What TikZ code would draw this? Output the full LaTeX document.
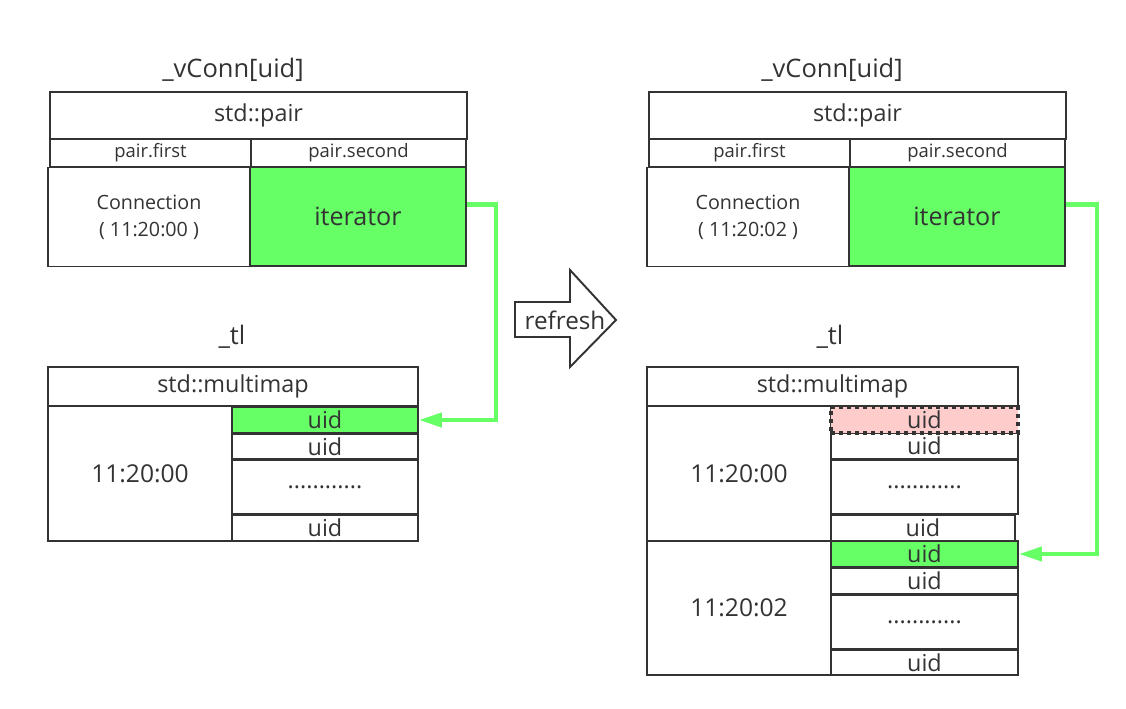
\documentclass[tikz,border=0pt]{standalone}
\usepackage{fontspec}
\setmainfont{Open Sans}
\usetikzlibrary{arrows.meta,calc}
\definecolor{mygreen}{RGB}{102,255,102}
\definecolor{mypink}{RGB}{255,204,204}
\definecolor{myline}{RGB}{51,51,51}
\newcommand{\fsz}[1]{\fontsize{#1}{#1}\selectfont}

\tikzset{
  box/.style 2 args={minimum width=#1*0.02cm, minimum height=#2*0.02cm},
  cell/.style={draw=myline, line width=1.1pt, inner sep=0pt},
  hot/.style={cell, fill=mygreen},
  gone/.style={fill=mypink, draw=myline, line width=2.4pt, dash pattern=on 2.2pt off 2.4pt, inner sep=0pt},
  link/.style={draw=mygreen, line width=2.4pt, -{Triangle[length=0.46cm,width=0.28cm]}},
  title/.style={font=\fsz{14.5}},
  big/.style={font=\fsz{13.3}},
  small/.style={font=\fsz{10.5}},
}

\begin{document}
\begin{tikzpicture}[x=0.02cm, y=-0.02cm, text=myline]
  \fill[white] (0,0) rectangle (1126,708);
  \useasboundingbox (0,0) rectangle (1126,708);

  % left: before refresh
  \node[title] (vconnL) at (233,70) {\_vConn[uid]};
  \node[cell, big, box={417}{47}] (pairL) at (258.5,115.5) {std::pair};
  \node[cell, small, box={201}{28}] (firstL) at (150.5,153) {pair.first};
  \node[cell, small, box={215}{28}] (secondL) at (358.5,153) {pair.second};
  \node[cell, font=\fsz{11.2}, align=center, box={202}{99}] (connL) at (149,217) {Connection\\[4pt]( 11:20:00 )};
  \node[hot, font=\fsz{14.3}, box={216}{99}] (iterL) at (358,216.5) {iterator};

  \node[title] (tlL) at (232,337) {\_tl};
  \node[cell, big, box={370}{39}] (mapL) at (233,386.5) {std::multimap};
  \node[cell, font=\fsz{14}, box={184}{135}] (timeL) at (140,473.5) {11:20:00};
  \node[hot, big, box={186}{26}] (uidLa) at (325,420) {uid};
  \node[cell, big, box={186}{25}] (uidLb) at (325,446.5) {uid};
  \node[cell, big, box={186}{54}] (dotsL) at (325,487) {............};
  \node[cell, big, box={186}{26}] (uidLc) at (325,528) {uid};

  \draw[link] ($(iterL.north east)!0.38!(iterL.south east)$) -- ++(29,0) |- (uidLa.east);

  % refresh arrow
  \draw[line width=1.1pt, draw=myline, fill=white] (515,302) -- (570,302) -- (570,270) -- (616,320)
    -- (570,367) -- (570,337) -- (515,337) -- cycle;
  \node[font=\fsz{13.8}] (refresh) at (565,320) {refresh};

  % right: after refresh
  \node[title] (vconnR) at (832,70) {\_vConn[uid]};
  \node[cell, big, box={417}{47}] (pairR) at (857.5,115.5) {std::pair};
  \node[cell, small, box={201}{28}] (firstR) at (749.5,153) {pair.first};
  \node[cell, small, box={215}{28}] (secondR) at (957.5,153) {pair.second};
  \node[cell, font=\fsz{11.2}, align=center, box={202}{99}] (connR) at (748,217) {Connection\\[4pt]( 11:20:02 )};
  \node[hot, font=\fsz{14.3}, box={216}{99}] (iterR) at (957,216.5) {iterator};

  \node[title] (tlR) at (830,337) {\_tl};
  \node[cell, big, box={371}{39}] (mapR) at (832.5,386.5) {std::multimap};
  \node[cell, font=\fsz{14}, box={184}{135}] (timeRa) at (739,473.5) {11:20:00};
  \node[cell, big, box={187}{26}] (uidRb) at (924.5,446) {uid};
  \node[gone, big, box={187}{26}] (oldR) at (924.5,420) {uid};
  \node[cell, big, box={187}{54}] (dotsRa) at (924.5,487) {............};
  \node[cell, big, box={184}{26}] (uidRc) at (923,528) {uid};
  \node[cell, font=\fsz{14}, box={184}{134}] (timeRb) at (739,608) {11:20:02};
  \node[hot, big, box={187}{26}] (newR) at (924.5,554) {uid};
  \node[cell, big, box={187}{26}] (uidRd) at (924.5,581) {uid};
  \node[cell, big, box={187}{54}] (dotsRb) at (924.5,622) {............};
  \node[cell, big, box={187}{25}] (uidRe) at (924.5,662.5) {uid};

  \draw[link] ($(iterR.north east)!0.38!(iterR.south east)$) -- ++(31,0) |- (newR.east);
\end{tikzpicture}
\end{document}
